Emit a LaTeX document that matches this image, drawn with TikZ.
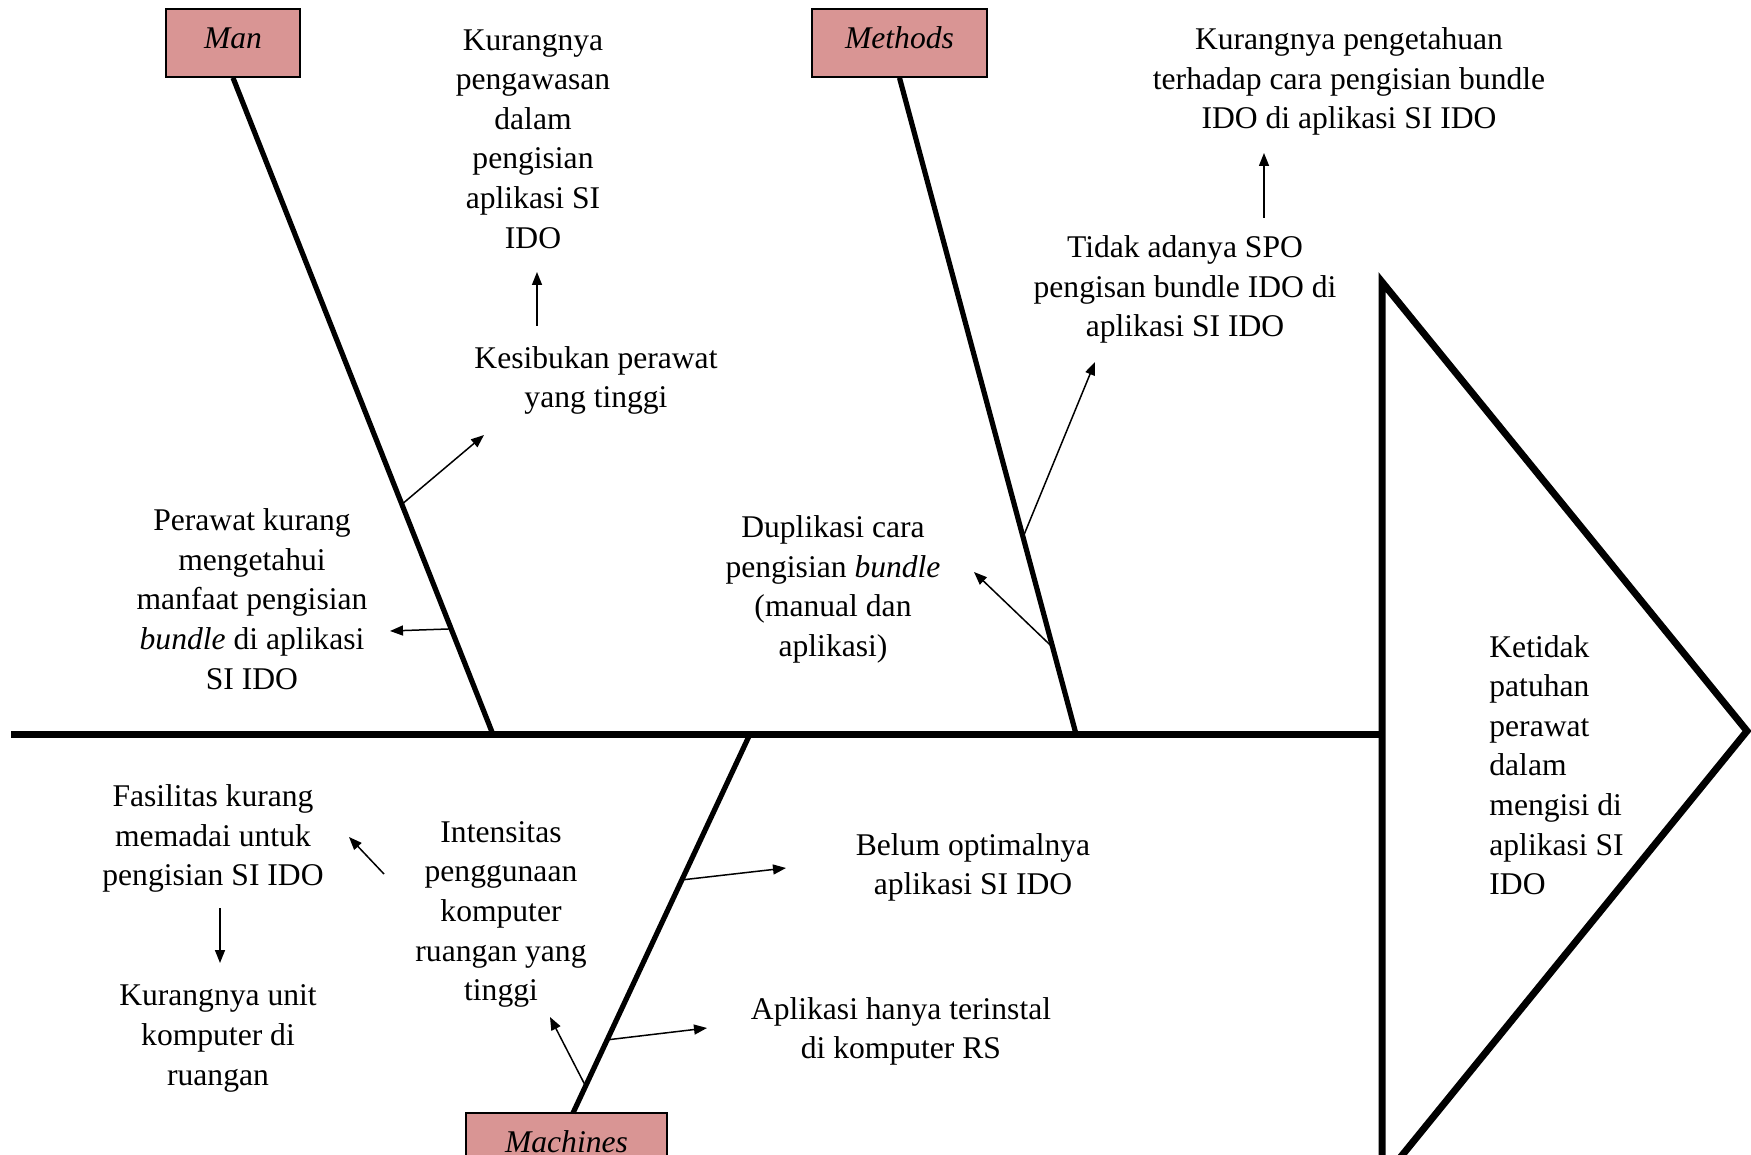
\documentclass[tikz,border=0pt]{standalone}
\usepackage{fontspec}
\setmainfont{Liberation Serif}
\usetikzlibrary{arrows.meta}

\definecolor{causefill}{HTML}{D99594}

\tikzset{
  causebox/.style={draw=black, line width=0.8pt, fill=causefill, inner sep=0pt,
    minimum height=34pt, text height=11pt, text depth=5.6pt,
    font=\fontsize{15.8pt}{19.8pt}\selectfont\itshape},
  txt/.style={align=center, inner sep=0pt, font=\fontsize{15.8pt}{19.8pt}\selectfont},
  bone/.style={line width=2.6pt},
  spine/.style={line width=3.5pt},
  sub/.style={line width=0.75pt, -{Triangle[length=6.5pt,width=5pt]}},
}

\begin{document}
\begin{tikzpicture}[x=0.5pt,y=-0.5pt]
  \path[use as bounding box, clip] (0,0) rectangle (1751,1155);

  % main spine and effect head
  \coordinate (spineL) at (11,734);
  \coordinate (spineR) at (1382,734);
  \draw[spine] (spineL) -- (spineR);
  \draw[spine, line join=miter] (1382,282) coordinate (headT) -- (1747,731) coordinate (headP)
        -- (1382,1180) coordinate (headB) -- cycle;
  \node[txt, align=left, anchor=west] (effect) at (1489,765)
    {Ketidak\\patuhan\\perawat\\dalam\\mengisi di\\aplikasi SI\\IDO};

  % category boxes
  \node[causebox, minimum width=67pt] (man) at (233,43) {Man};
  \node[causebox, minimum width=87.5pt] (methods) at (899.5,43) {Methods};
  \node[causebox, minimum width=100.5pt] (machines) at (566.5,1147) {Machines};

  % bones
  \coordinate (manJ) at (494,737);
  \coordinate (methJ) at (1076,734);
  \coordinate (machJ) at (750,734);
  \coordinate (machT) at (573,1113);
  \draw[bone] (man.south) -- (manJ)
     coordinate[pos=0.647] (m1) coordinate[pos=0.836] (m2);
  \draw[bone] (methods.south) -- (methJ)
     coordinate[pos=0.70] (d1) coordinate[pos=0.868] (d2);
  \draw[bone] (machJ) -- (machT)
     coordinate[pos=0.385] (c1) coordinate[pos=0.807] (c2) coordinate[pos=0.929] (c3);

  % Man causes
  \node[txt] (pengawasan) at (533,139)
    {Kurangnya\\pengawasan\\dalam\\pengisian\\aplikasi SI\\IDO};
  \node[txt] (kesibukan) at (596,380.5) {Kesibukan perawat\\yang tinggi};
  \node[txt] (manfaat) at (252,599)
    {Perawat kurang\\mengetahui\\manfaat pengisian\\\textit{bundle} di aplikasi\\SI IDO};
  \coordinate (t1) at (484,435);
  \coordinate (t2) at (390,631);
  \coordinate (s3) at (537,326);
  \coordinate (t3) at (537,272);
  \draw[sub] (m1) -- (t1);
  \draw[sub] (m2) -- (t2);
  \draw[sub] (s3) -- (t3);

  % Methods causes
  \node[txt] (pengetahuan) at (1349,81.5)
    {Kurangnya pengetahuan\\terhadap cara pengisian bundle\\IDO di aplikasi SI IDO};
  \node[txt] (spo) at (1185,289.5)
    {Tidak adanya SPO\\pengisan bundle IDO di\\aplikasi SI IDO};
  \node[txt] (duplikasi) at (833,589.5)
    {Duplikasi cara\\pengisian \textit{bundle}\\(manual dan\\aplikasi)};
  \coordinate (t4) at (1095,362);
  \coordinate (t5) at (974,572);
  \coordinate (s6) at (1264,218);
  \coordinate (t6) at (1264,153);
  \draw[sub] (d1) -- (t4);
  \draw[sub] (d2) -- (t5);
  \draw[sub] (s6) -- (t6);

  % Machines causes
  \node[txt] (fasilitas) at (213,838.5)
    {Fasilitas kurang\\memadai untuk\\pengisian SI IDO};
  \node[txt] (unit) at (218,1038.5) {Kurangnya unit\\komputer di\\ruangan};
  \node[txt] (intensitas) at (501,914.5)
    {Intensitas\\penggunaan\\komputer\\ruangan yang\\tinggi};
  \node[txt] (optimal) at (973,867.5) {Belum optimalnya\\aplikasi SI IDO};
  \node[txt] (terinstal) at (901,1031.5) {Aplikasi hanya terinstal\\di komputer RS};
  \coordinate (t7) at (786,868);
  \coordinate (t8) at (707,1028);
  \coordinate (t9) at (550,1017);
  \coordinate (s10) at (384,874);
  \coordinate (t10) at (349,837);
  \coordinate (s11) at (220,908);
  \coordinate (t11) at (220,963);
  \draw[sub] (c1) -- (t7);
  \draw[sub] (c2) -- (t8);
  \draw[sub] (c3) -- (t9);
  \draw[sub] (s10) -- (t10);
  \draw[sub] (s11) -- (t11);
\end{tikzpicture}
\end{document}
